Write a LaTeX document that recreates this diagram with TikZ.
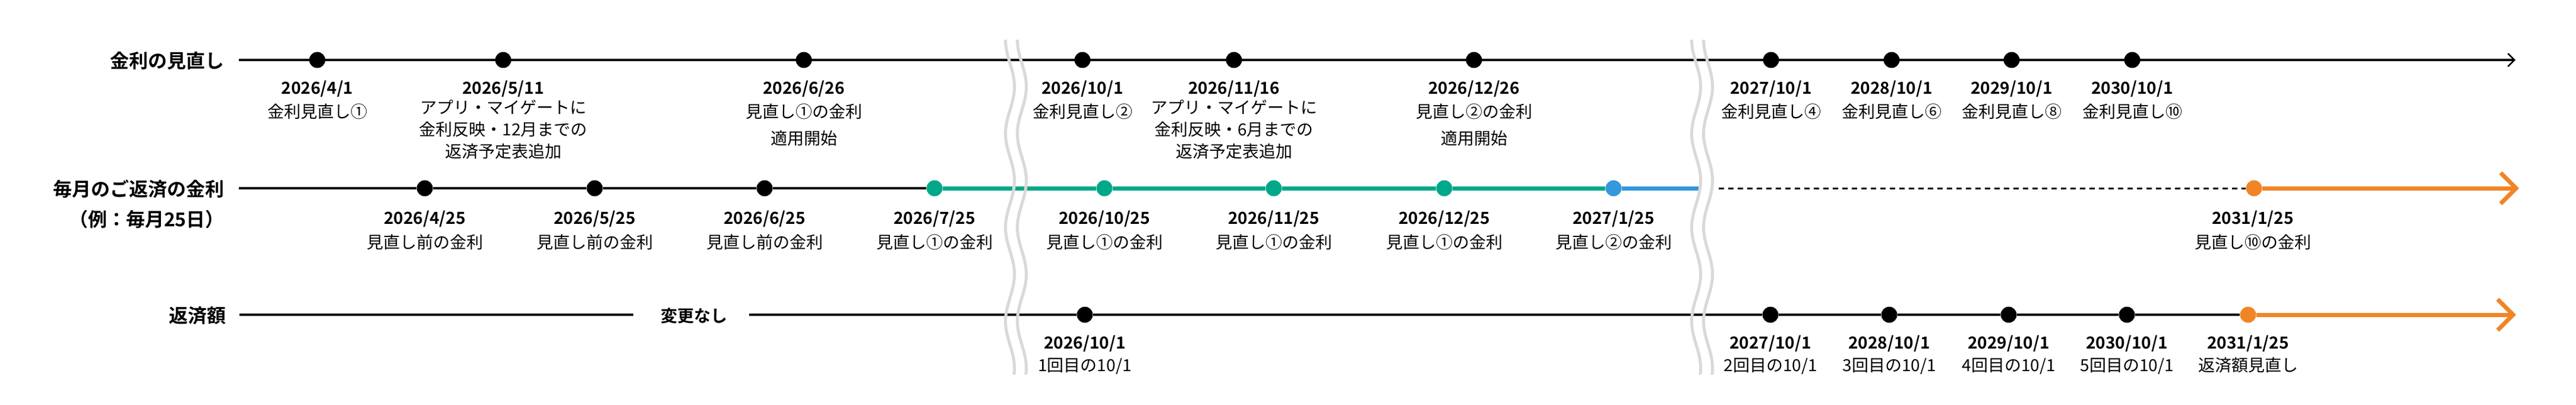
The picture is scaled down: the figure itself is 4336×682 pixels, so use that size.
\documentclass[tikz,border=0pt]{standalone}
\usepackage{fontspec}
\setmainfont{Noto Sans CJK JP}[BoldFont={Noto Sans CJK JP Bold}]
\usetikzlibrary{arrows.meta}
\definecolor{tealc}{HTML}{00A88A}
\definecolor{bluec}{HTML}{3498DB}
\definecolor{orangec}{HTML}{F08526}
\definecolor{wavec}{HTML}{D9D9D9}
\begin{document}
\begin{tikzpicture}[x=1pt,y=-1pt,
  dot/.style={circle,fill=black,inner sep=0pt,minimum size=27pt},
  tealdot/.style={dot,fill=tealc},
  bluedot/.style={dot,fill=bluec},
  orangedot/.style={dot,fill=orangec},
  date/.style={font=\fontsize{28}{28}\selectfont\bfseries,anchor=base,inner sep=0pt},
  desc/.style={font=\fontsize{28}{28}\selectfont,anchor=base,inner sep=0pt},
  title/.style={font=\fontsize{32}{32}\selectfont\bfseries,anchor=east,inner sep=0pt},
  axis/.style={line width=3.5pt,black},
  thickline/.style={line width=7pt},
  dashline/.style={line width=3pt,black,dash pattern=on 9pt off 7pt},
  thinarrow/.style={-{Straight Barb[length=11pt,width=22pt,line width=2.5pt]}},
  bigarrow/.style={-{Straight Barb[length=26pt,width=52pt,line width=7pt]}},
  wave/.style={line width=5pt,wavec}]
\useasboundingbox (0,0) rectangle (4336,682);

% ---------- Row 1 ----------
\node[title] (t1) at (378,102) {金利の見直し};
\coordinate (r1s) at (402,101);
\coordinate (r1e) at (4234,101);
\draw[axis,thinarrow] (r1s) -- (r1e);
\foreach \n/\x in {a1/534,a2/847,a3/1353,a4/1822,a5/2077,a6/2481,a7/2981,a8/3184,a9/3386,a10/3589}
  \node[dot] (\n) at (\x,101) {};

\node[date] (a1d) at (534,158) {2026/4/1};
\node[desc] (a1t) at (534,198) {金利見直し①};
\node[date] (a2d) at (847,158) {2026/5/11};
\node[desc] (a2t1) at (847,191) {アプリ・マイゲートに};
\node[desc] (a2t2) at (847,228) {金利反映・12月までの};
\node[desc] (a2t3) at (847,265) {返済予定表追加};
\node[date] (a3d) at (1353,158) {2026/6/26};
\node[desc] (a3t1) at (1353,198) {見直し①の金利};
\node[desc] (a3t2) at (1353,243) {適用開始};
\node[date] (a4d) at (1822,158) {2026/10/1};
\node[desc] (a4t) at (1822,198) {金利見直し②};
\node[date] (a5d) at (2077,158) {2026/11/16};
\node[desc] (a5t1) at (2077,191) {アプリ・マイゲートに};
\node[desc] (a5t2) at (2077,228) {金利反映・6月までの};
\node[desc] (a5t3) at (2077,265) {返済予定表追加};
\node[date] (a6d) at (2481,158) {2026/12/26};
\node[desc] (a6t1) at (2481,198) {見直し②の金利};
\node[desc] (a6t2) at (2481,243) {適用開始};
\node[date] (a7d) at (2981,158) {2027/10/1};
\node[desc] (a7t) at (2981,198) {金利見直し④};
\node[date] (a8d) at (3184,158) {2028/10/1};
\node[desc] (a8t) at (3184,198) {金利見直し⑥};
\node[date] (a9d) at (3386,158) {2029/10/1};
\node[desc] (a9t) at (3386,198) {金利見直し⑧};
\node[date] (a10d) at (3589,158) {2030/10/1};
\node[desc] (a10t) at (3589,198) {金利見直し⑩};

% ---------- Row 2 ----------
\node[title] (t2) at (378,318) {毎月のご返済の金利};
\node[title] (t2b) at (378,369) {（例：毎月25日）};
\coordinate (r2s) at (402,317);
\coordinate (r2b) at (2859,317);
\coordinate (r2d) at (2893,317);
\coordinate (r2e) at (4240,317);
\node[dot] (b1) at (715,317) {};
\node[dot] (b2) at (1001,317) {};
\node[dot] (b3) at (1287,317) {};
\node[tealdot] (b4) at (1573,317) {};
\node[tealdot] (b5) at (1859,317) {};
\node[tealdot] (b6) at (2144,317) {};
\node[tealdot] (b7) at (2431,317) {};
\node[bluedot] (b8) at (2716,317) {};
\node[orangedot] (b9) at (3794,317) {};
\draw[axis] (r2s) -- (b1) (b1) -- (b2) (b2) -- (b3) (b3) -- (b4);
\draw[thickline,tealc] (b4) -- (b5) (b5) -- (b6) (b6) -- (b7) (b7) -- (b8);
\draw[thickline,bluec] (b8) -- (r2b);
\draw[dashline] (r2d) -- (b9);
\draw[thickline,orangec,bigarrow] (b9) -- (r2e);

\foreach \n/\x/\d/\t in {b1/715/2026\slash 4\slash 25/見直し前の金利,
                          b2/1001/2026\slash 5\slash 25/見直し前の金利,
                          b3/1287/2026\slash 6\slash 25/見直し前の金利,
                          b4/1573/2026\slash 7\slash 25/見直し①の金利,
                          b5/1859/2026\slash 10\slash 25/見直し①の金利,
                          b6/2144/2026\slash 11\slash 25/見直し①の金利,
                          b7/2431/2026\slash 12\slash 25/見直し①の金利,
                          b8/2716/2027\slash 1\slash 25/見直し②の金利,
                          b9/3792/2031\slash 1\slash 25/見直し⑩の金利}{
  \node[date] (\n d) at (\x,377) {\d};
  \node[desc] (\n t) at (\x,418) {\t};
}

% ---------- Row 3 ----------
\node[title] (t3) at (381,532) {返済額};
\node[font=\fontsize{28}{28}\selectfont\bfseries,inner sep=0pt] (nochg) at (1168,532) {変更なし};
\coordinate (r3s) at (403,530);
\coordinate (r3m1) at (1066,530);
\coordinate (r3m2) at (1261,530);
\coordinate (r3e) at (4235,530);
\node[dot] (c1) at (1826,530) {};
\node[dot] (c2) at (2980,530) {};
\node[dot] (c3) at (3180,530) {};
\node[dot] (c4) at (3381,530) {};
\node[dot] (c5) at (3580,530) {};
\node[orangedot] (c6) at (3784,530) {};
\draw[axis] (r3s) -- (r3m1);
\draw[axis] (r3m2) -- (c1) (c1) -- (c2) (c2) -- (c3) (c3) -- (c4) (c4) -- (c5) (c5) -- (c6);
\draw[thickline,orangec,bigarrow] (c6) -- (r3e);

\foreach \n/\x/\d/\t in {c1/1826/2026\slash 10\slash 1/1回目の10\slash 1,
                          c2/2980/2027\slash 10\slash 1/2回目の10\slash 1,
                          c3/3180/2028\slash 10\slash 1/3回目の10\slash 1,
                          c4/3381/2029\slash 10\slash 1/4回目の10\slash 1,
                          c5/3580/2030\slash 10\slash 1/5回目の10\slash 1,
                          c6/3784/2031\slash 1\slash 25/返済額見直し}{
  \node[date] (\n d) at (\x,587) {\d};
  \node[desc] (\n t) at (\x,625) {\t};
}

% ---------- Break marks ----------
\foreach \xo in {1700,1720,2855,2875}
  \draw[wave] plot[domain=67:631,samples=150,variable=\t] ({\xo-7.5*cos(2.2785*(\t-67))},{\t});
\end{tikzpicture}
\end{document}
